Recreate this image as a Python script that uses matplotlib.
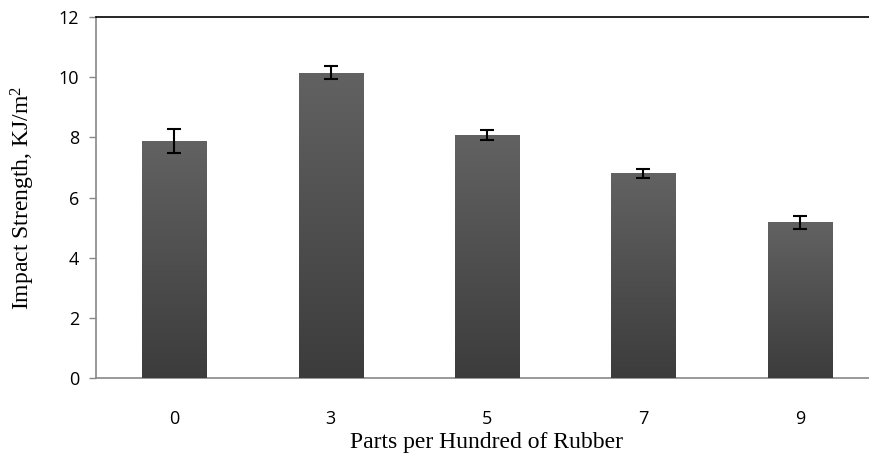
import numpy as np
import matplotlib
matplotlib.use('Agg')
import matplotlib.pyplot as plt

# valores
categorias = ['0', '3', '5', '7', '9']
impacto = [7.88, 10.15, 8.07, 6.80, 5.17]
error = [0.40, 0.22, 0.17, 0.15, 0.20]

fig = plt.figure(figsize=(8.7, 4.54), dpi=100)
ax = fig.add_axes([0.1103, 0.1674, 0.8989, 0.795])

x = np.arange(len(categorias))
barras = ax.bar(x, impacto, width=0.41, color='#4f4f4f', zorder=2)

# degradado vertical en cada barra
grad = np.linspace(0, 1, 256).reshape(-1, 1)
cmap = matplotlib.colors.LinearSegmentedColormap.from_list('g', ['#3c3c3c', '#626262'])
for b in barras:
    x0, y0 = b.get_x(), b.get_y()
    im = ax.imshow(grad, cmap=cmap, aspect='auto', origin='lower',
                   extent=[x0, x0 + b.get_width(), y0, y0 + b.get_height()], zorder=3)
    im.set_clip_path(b)

ax.errorbar(x, impacto, yerr=error, fmt='none', ecolor='black', elinewidth=1.5,
            capsize=5, capthick=1.5, zorder=4)

ax.set_xlim(-0.5, 4.5)
ax.set_ylim(0, 12)
ax.set_yticks(range(0, 13, 2))
ax.set_xticks(x)
ax.set_xticklabels(categorias)

for lab in ax.get_xticklabels() + ax.get_yticklabels():
    lab.set_family('Open Sans')
    lab.set_fontsize(13)
ax.tick_params(axis='x', length=0, pad=23)
ax.tick_params(axis='y', length=5, color='#888888', width=1, pad=7)

ax.spines['top'].set_color('black')
ax.spines['top'].set_linewidth(1.2)
ax.spines['left'].set_color('#888888')
ax.spines['bottom'].set_color('#888888')
ax.spines['left'].set_linewidth(1.2)
ax.spines['bottom'].set_linewidth(1.2)
ax.spines['right'].set_visible(False)

ax.set_xlabel('Parts per Hundred of Rubber', family='Liberation Serif', fontsize=17, labelpad=3)
ax.set_ylabel('Impact Strength, KJ/m$\\mathregular{^2}$', family='Liberation Serif',
              fontsize=17, labelpad=16)

fig.savefig('out.png', dpi=100)
